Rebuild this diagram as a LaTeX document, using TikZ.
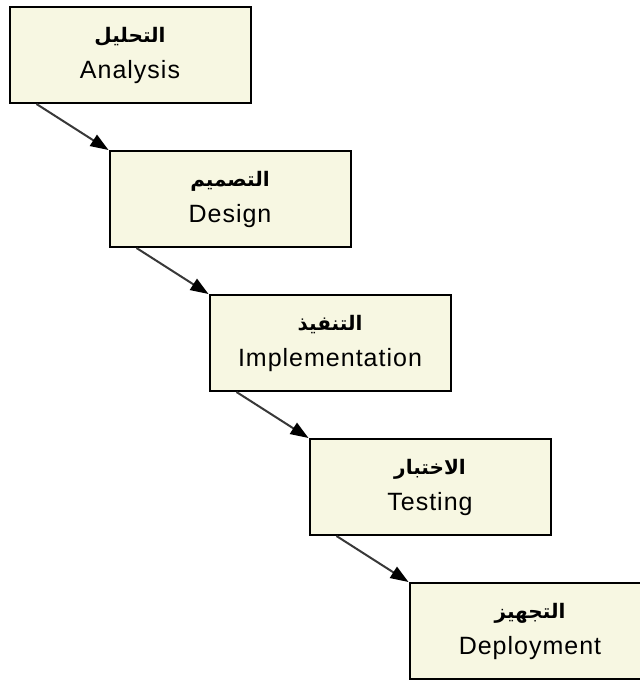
\documentclass[tikz,border=0pt]{standalone}
\usepackage{fontspec}
\setmainfont[LetterSpace=4]{Liberation Sans}
\newfontfamily\arabicfont[Script=Arabic]{DejaVu Sans}
\TeXXeTstate=1
\usetikzlibrary{positioning,arrows.meta}
\definecolor{cream}{RGB}{247,247,226}
\definecolor{flowgray}{RGB}{56,56,56}
\newcommand{\arabname}[1]{{\arabicfont\bfseries\fontsize{20}{22}\selectfont\beginR #1\endR}}
\begin{document}
\begin{tikzpicture} [
   x=1pt, y=1pt, node distance=144pt and 100pt, on grid,
   stage/.style={rectangle, draw, line width=2pt, fill=cream,
      minimum width=241pt, minimum height=96pt, align=center,
      font=\fontsize{25}{36}\selectfont},
   flow/.style={-{Triangle[length=18pt,width=13pt,color=black]},
      line width=2pt, draw=flowgray}
]
   \clip (0,0) rectangle (640,-681);
   \node (analysis) [stage] at (130,-55) {\arabname{التحليل}\\Analysis};
   \node (design) [stage, below right=of analysis] {\arabname{التصميم}\\Design};
   \node (implement) [stage, below right=of design] {\arabname{التنفيذ}\\Implementation};
   \node (testing) [stage, below right=of implement] {\arabname{الاختبار}\\Testing};
   \node (deploy) [stage, below right=of testing] {\arabname{التجهيز}\\Deployment};
   \draw [flow] ([xshift=28pt]analysis.south west) -- (design.north west);
   \draw [flow] ([xshift=28pt]design.south west) -- (implement.north west);
   \draw [flow] ([xshift=28pt]implement.south west) -- (testing.north west);
   \draw [flow] ([xshift=28pt]testing.south west) -- (deploy.north west);
\end{tikzpicture}
\end{document}
